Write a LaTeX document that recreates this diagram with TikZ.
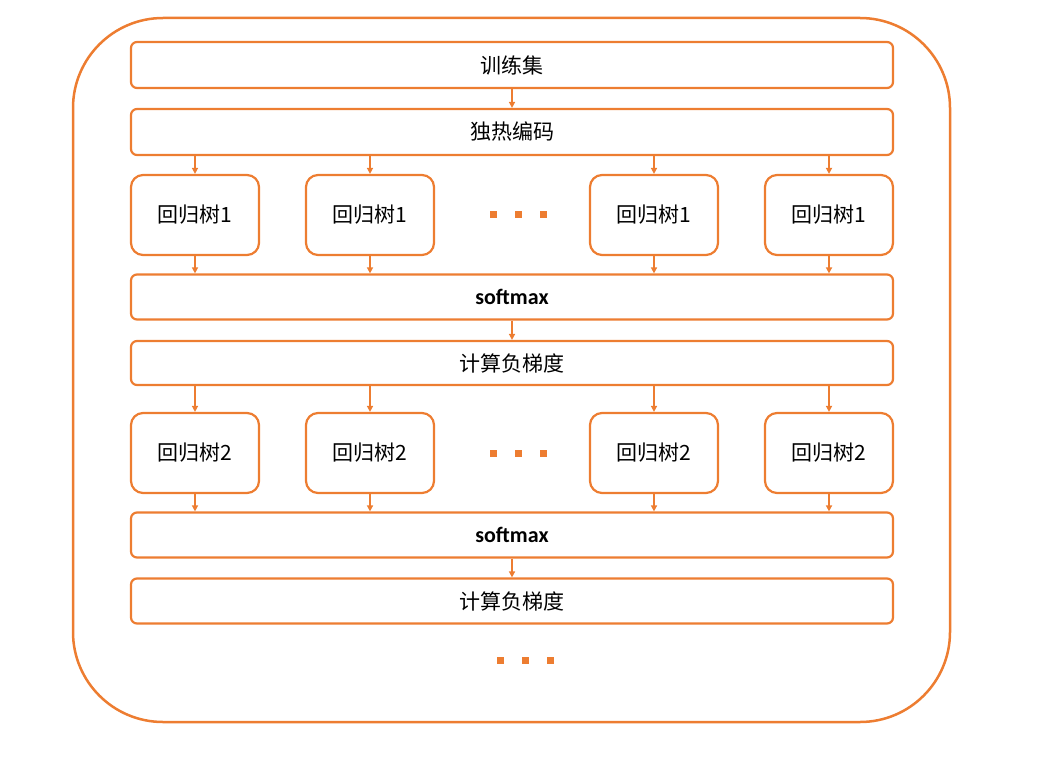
\documentclass[tikz,border=0pt]{standalone}
\usepackage{fontspec}
\newfontfamily\cjk{Noto Sans CJK SC}
\newfontfamily\carlito{Carlito}
\usetikzlibrary{arrows.meta}
\definecolor{org}{HTML}{ED7D31}
\begin{document}
\begin{tikzpicture}[x=1pt,y=-1pt,
  bx/.style={draw=org,line width=2.2pt,rounded corners=6pt,inner sep=0pt,font=\cjk\fontsize{21}{24}\selectfont},
  arr/.style={draw=org,line width=1.8pt,-{Triangle[length=6pt,width=6pt]}},
  dot/.style={fill=org,minimum size=7pt,inner sep=0pt}]
\useasboundingbox (0,0) rectangle (1040,775);
\draw[org,line width=2.5pt,rounded corners=90pt] (73,18) rectangle (950,722);
\def\mybar#1#2#3#4{\node[bx,minimum width=762pt,minimum height=#3pt] (#1) at (512,#2) {#4};}
\mybar{a}{65}{46}{训练集}
\mybar{b}{132}{46}{独热编码}
\mybar{s1}{297}{45}{\carlito\bfseries\fontsize{22}{24}\selectfont softmax}
\mybar{g1}{363}{44}{计算负梯度}
\mybar{s2}{535}{45}{\carlito\bfseries\fontsize{22}{24}\selectfont softmax}
\mybar{g2}{601}{45}{计算负梯度}
\foreach \x/\n in {195/1,370/2,654/3,829/4}{
  \node[bx,rounded corners=12pt,minimum width=128pt,minimum height=80pt] (t1\n) at (\x,215) {回归树1};
  \node[bx,rounded corners=12pt,minimum width=128pt,minimum height=80pt] (t2\n) at (\x,453) {回归树2};
  \draw[arr] (b.south -| t1\n) -- (t1\n.north);
  \draw[arr] (t1\n) -- (s1.north -| t1\n);
  \draw[arr] (g1.south -| t2\n) -- (t2\n.north);
  \draw[arr] (t2\n) -- (s2.north -| t2\n);
}
\draw[arr] (a) -- (b);
\draw[arr] (s1) -- (g1);
\draw[arr] (s2) -- (g2);
\foreach \y/\c in {215/0,453/0,660/7}{
  \foreach \i in {0,1,2}{\node[dot] (d\y\i) at (493+\c+25*\i,\y) {};}
}
\end{tikzpicture}
\end{document}
